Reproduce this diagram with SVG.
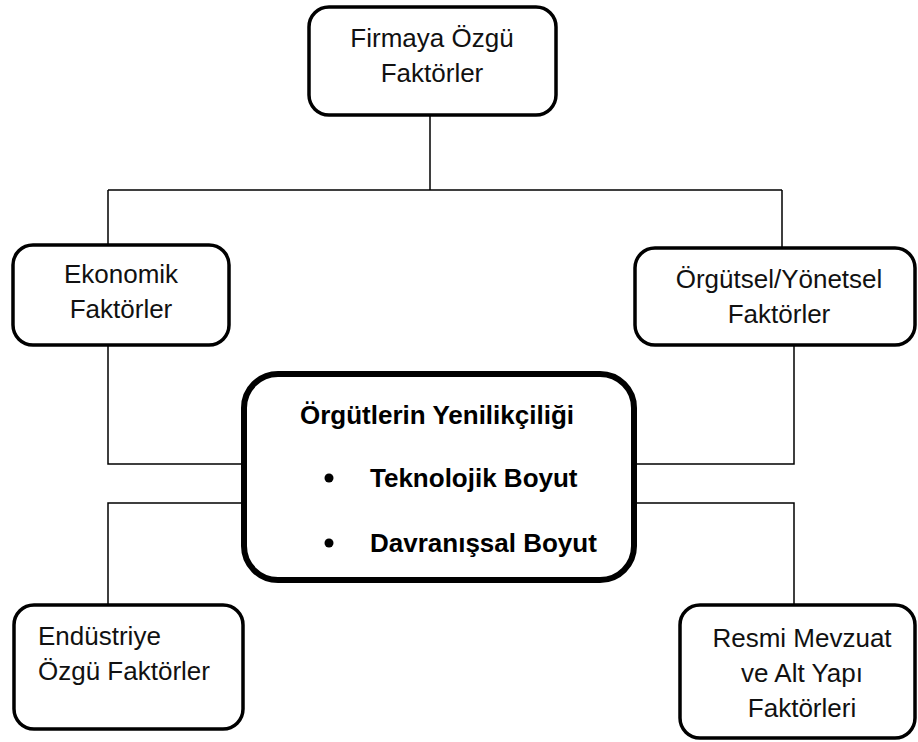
<svg xmlns="http://www.w3.org/2000/svg" width="918" height="742" viewBox="0 0 918 742">
  <style>
    .box { fill: #ffffff; stroke: #000000; stroke-width: 3.5; }
    .core { fill: #ffffff; stroke: #000000; stroke-width: 6; }
    .lbl { font-family: "Liberation Sans", Arial, sans-serif; font-size: 26px; fill: #111111; }
    .mid { text-anchor: middle; }
    .bold { font-weight: bold; fill: #000000; }
    .wire { fill: none; stroke: #000000; stroke-width: 1.5; }
  </style>

  <!-- connector lines -->
  <g id="connectors">
    <path class="wire" d="M430 115 V190 M108 190 H782 M108 190 V245 M782 190 V248"/>
    <path class="wire" d="M108 345 V464 H244 M794 345 V464 H634"/>
    <path class="wire" d="M244 503 H108 V605 M634 503 H794 V605"/>
  </g>

  <g id="firmaya">
    <rect class="box" x="309" y="7" width="247" height="108" rx="20"/>
    <text class="lbl mid" x="432" y="47">Firmaya Özgü</text>
    <text class="lbl mid" x="432" y="82">Faktörler</text>
  </g>

  <g id="ekonomik">
    <rect class="box" x="13" y="245" width="216" height="100" rx="20"/>
    <text class="lbl mid" x="121" y="283">Ekonomik</text>
    <text class="lbl mid" x="121" y="318">Faktörler</text>
  </g>

  <g id="orgutsel">
    <rect class="box" x="635" y="248" width="280" height="97" rx="20"/>
    <text class="lbl mid" x="779" y="288">Örgütsel/Yönetsel</text>
    <text class="lbl mid" x="779" y="323">Faktörler</text>
  </g>

  <g id="yenilikcilik">
    <rect class="core" x="244" y="374" width="390" height="206" rx="34"/>
    <text class="lbl mid bold" x="437" y="424">Örgütlerin Yenilikçiliği</text>
    <circle cx="329" cy="478" r="4.5" fill="#000000"/>
    <text class="lbl bold" x="370" y="487">Teknolojik Boyut</text>
    <circle cx="329" cy="543" r="4.5" fill="#000000"/>
    <text class="lbl bold" x="370" y="552">Davranışsal Boyut</text>
  </g>

  <g id="endustriye">
    <rect class="box" x="14" y="605" width="229" height="124" rx="20"/>
    <text class="lbl" x="38" y="645">Endüstriye</text>
    <text class="lbl" x="38" y="680">Özgü Faktörler</text>
  </g>

  <g id="resmi">
    <rect class="box" x="680" y="605" width="235" height="133" rx="20"/>
    <text class="lbl mid" x="802" y="647">Resmi Mevzuat</text>
    <text class="lbl mid" x="802" y="682">ve Alt Yapı</text>
    <text class="lbl mid" x="802" y="717">Faktörleri</text>
  </g>
</svg>
